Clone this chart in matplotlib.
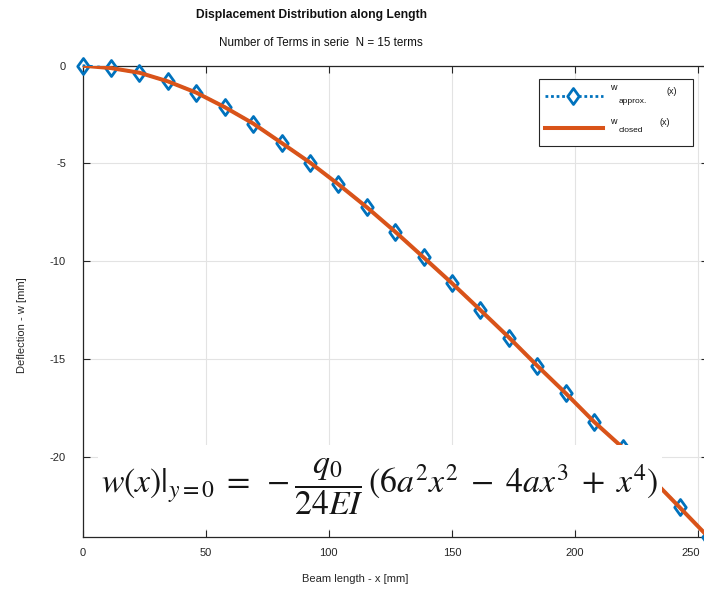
import matplotlib
matplotlib.use("Agg")
import matplotlib.pyplot as plt
from matplotlib.lines import Line2D
from matplotlib.patches import Rectangle
from matplotlib.path import Path
from matplotlib.transforms import ScaledTranslation

# beam positions [mm] and deflections [mm]
x_beam = [0.0, 11.5, 23.1, 34.6, 46.2, 57.7, 69.3, 80.8, 92.4, 103.9, 115.5, 127.0,
          138.5, 150.1, 161.6, 173.2, 184.7, 196.3, 207.8, 219.4, 230.9, 242.5, 254.0]
w_approx = [0.0, -0.12, -0.36, -0.80, -1.38, -2.12, -2.96, -3.95, -4.96, -6.07, -7.25, -8.50,
            -9.81, -11.14, -12.51, -13.91, -15.36, -16.77, -18.23, -19.55, -21.1, -22.6, -24.1]
w_closed = list(w_approx)  # closed form runs through the same points

x_ticks = [0, 50, 100, 150, 200, 250]
y_ticks = [-20, -15, -10, -5, 0]

BLUE = "#0072BD"
ORANGE = "#D95319"
DARK = "#262626"

plt.rcParams["font.family"] = ["Liberation Sans", "DejaVu Sans"]
plt.rcParams["axes.unicode_minus"] = False

W, H = 704, 590
fig = plt.figure(figsize=(W / 100, H / 100), dpi=100)


def fx(px):
    return px / W


def fy(py):
    return 1 - py / H


# axes runs a little past the right edge of the picture (cropped screenshot)
ax = fig.add_axes([fx(82.6), fy(536.7), (708 - 82.6) / W, (536.7 - 65.7) / H])

diamond = Path([(0, 1), (0.72, 0), (0, -1), (-0.72, 0), (0, 1)],
               [Path.MOVETO, Path.LINETO, Path.LINETO, Path.LINETO, Path.CLOSEPOLY])

ax.plot(x_beam, w_approx, linestyle=":", color=BLUE, linewidth=2,
        marker=diamond, markersize=11.5, markerfacecolor="none",
        markeredgecolor=BLUE, markeredgewidth=2.0, clip_on=False, zorder=3)
ax.plot(x_beam, w_closed, color=ORANGE, linewidth=2.9, zorder=4)

ax.set_xlim(0, 254)
ax.set_ylim(-24.1, 0)
ax.set_xticks(x_ticks)
ax.set_yticks(y_ticks)
ax.grid(True, color="#e3e3e3", linewidth=0.8)
ax.set_axisbelow(True)
ax.tick_params(direction="in", length=5, width=0.8, color=DARK, labelcolor=DARK,
               labelsize=8, top=True, right=True)
ax.tick_params(axis="y", pad=12)
ax.tick_params(axis="x", pad=8)
for s in ax.spines.values():
    s.set_color(DARK)
    s.set_linewidth(0.9)

# keep the last x tick label inside the picture
fig.canvas.draw()
last = ax.get_xticklabels()[-1]
last.set_transform(last.get_transform() + ScaledTranslation(-7 / 100, 0, fig.dpi_scale_trans))

ax.set_xlabel("Beam length - x [mm]", fontsize=8, color=DARK)
ax.xaxis.set_label_coords((355 - 82.6) / (708 - 82.6), (536.7 - 574) / 471)
ax.set_ylabel("Deflection - w [mm]", fontsize=8, color=DARK)
ax.yaxis.set_label_coords((27 - 82.6) / (708 - 82.6), (536.7 - 325) / 471)

fig.text(fx(311), fy(15), "Displacement Distribution along Length", fontsize=8.7,
         fontweight="bold", ha="center", va="center", color="#111111")
fig.text(fx(321), fy(43), "Number of Terms in serie  N = 15 terms", fontsize=8.4,
         ha="center", va="center", color="#111111")

# equation panel pasted over the lower part of the plot
ax.add_patch(Rectangle((fx(98), fy(529)), fx(662 - 98), (529 - 445) / H,
                       transform=fig.transFigure, facecolor="white",
                       edgecolor="none", zorder=5))
ax.text((380 - 82.6) / (708 - 82.6), (536.7 - 487) / 471,
        r"$w(x)|_{y=0}\;=\;-\dfrac{q_0}{24EI}\,(6a^2x^2\;-\;4ax^3\;+\;x^4)$",
        transform=ax.transAxes, fontsize=24.3, math_fontfamily="stix",
        ha="center", va="center", color="#151515", zorder=6)

# legend
fig.add_artist(Rectangle((fx(539), fy(146)), fx(693 - 539), (146 - 79) / H,
                         transform=fig.transFigure, facecolor="white",
                         edgecolor=DARK, linewidth=0.8, zorder=10))
fig.add_artist(Line2D([fx(545), fx(603)], [fy(96), fy(96)], transform=fig.transFigure,
                      linestyle=(0, (1, 1)), color=BLUE, linewidth=2, zorder=11))
fig.add_artist(Line2D([fx(573)], [fy(96)], transform=fig.transFigure, marker=diamond,
                      markersize=11.5, markerfacecolor="white", markeredgecolor=BLUE,
                      markeredgewidth=2.0, zorder=12))
fig.add_artist(Line2D([fx(545), fx(603)], [fy(128), fy(128)], transform=fig.transFigure,
                      color=ORANGE, linewidth=2.9, zorder=11))
for txt, px, py, fs in [("w", 613, 87, 6.5), ("approx.", 633, 102, 6), ("(x)", 672, 92, 6.5),
                        ("w", 613, 122, 6.5), ("closed", 631, 131, 6), ("(x)", 665, 123, 6.5)]:
    fig.text(fx(px), fy(py), txt, fontsize=fs, ha="center", va="center",
             color="#111111", zorder=13)

fig.savefig("out.png", dpi=100)
